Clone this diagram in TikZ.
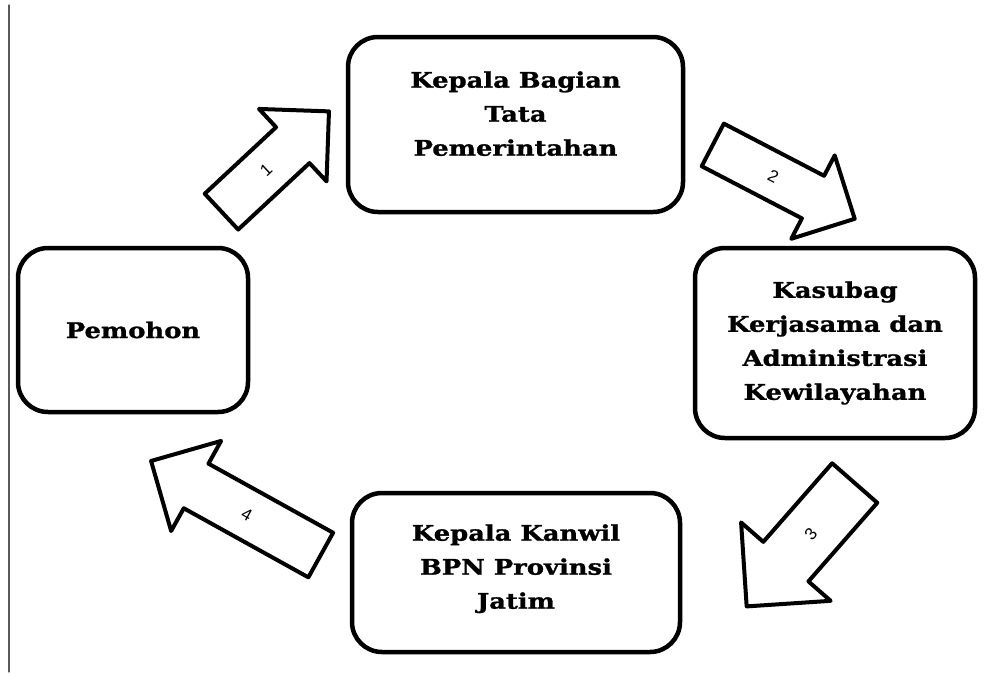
\documentclass[tikz,border=0pt]{standalone}
\usepackage{fontspec}
\usetikzlibrary{shapes.arrows}
\newfontfamily\boxfont{DejaVu Serif}[FakeStretch=1.2,FakeBold=1.2]
\newfontfamily\numfont{Liberation Sans}

\begin{document}
\begin{tikzpicture}[x=1pt,y=-1pt,line cap=round,line join=round,
    unitbox/.style={draw,line width=4.5pt,rounded corners=30pt,align=center,
        font=\boxfont\bfseries\fontsize{21.5}{34}\selectfont},
    flowarrow/.style={draw,line width=4pt,single arrow,single arrow head extend=#1,
        anchor=tail,text height=11pt,text depth=0pt,inner xsep=0pt,
        font=\numfont\fontsize{17}{17}\selectfont}]

    \useasboundingbox (0,0) rectangle (990,675);

    % margin line
    \draw[gray!70!black,line width=1.2pt] (9,5) -- (9,672);

    % units
    \node[unitbox,minimum width=335pt,minimum height=175pt,text depth=22pt] (kabag)
        at (515.5,124.5) {Kepala Bagian\\Tata\\Pemerintahan};
    \node[unitbox,minimum width=230pt,minimum height=164pt] (pemohon) at (133,330)
        {Pemohon};
    \node[unitbox,minimum width=280pt,minimum height=190pt] (kasubag) at (835,343)
        {Kasubag\\Kerjasama dan\\Administrasi\\Kewilayahan};
    \node[unitbox,minimum width=328pt,minimum height=159pt,text depth=12pt] (kakanwil)
        at (516,572.5) {Kepala Kanwil\\BPN Provinsi\\Jatim};

    % steps
    \node[flowarrow=25pt,inner ysep=17pt,minimum height=147pt,rotate=43] (step1)
        at (220,213) {1};
    \node[flowarrow=23pt,inner ysep=16.5pt,minimum height=160pt,rotate=-27.5] (step2)
        at (711,144) {2};
    \node[flowarrow=29.5pt,inner ysep=22.5pt,minimum height=164pt,rotate=-131.2] (step3)
        at (856,481.5) {\rotatebox[origin=c]{180}{3}};
    \node[flowarrow=26pt,inner ysep=18pt,minimum height=194pt,rotate=151] (step4)
        at (322.5,556) {\rotatebox[origin=c]{180}{4}};

\end{tikzpicture}
\end{document}
